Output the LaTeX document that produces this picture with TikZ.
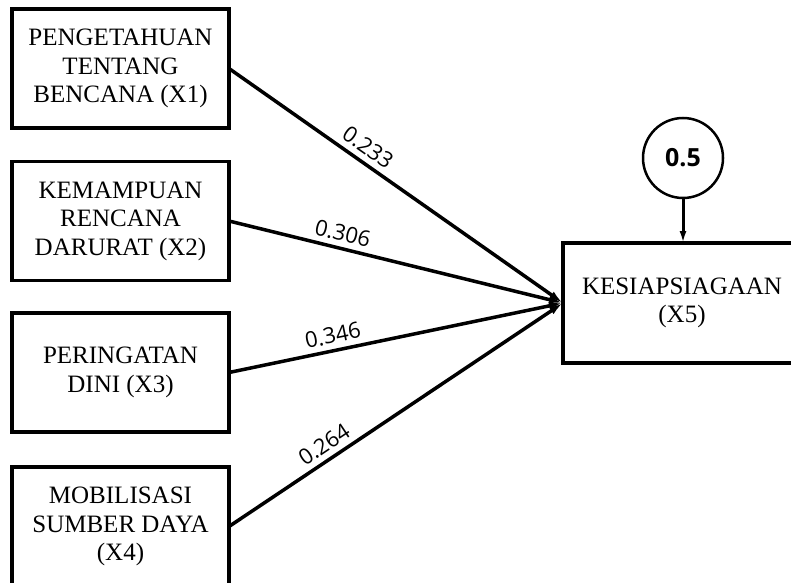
\documentclass[tikz,border=0pt]{standalone}
\usepackage{fontspec}
\setmainfont{Liberation Serif}
\newfontfamily\labfont{Open Sans}
\usetikzlibrary{arrows.meta}
\begin{document}
\begin{tikzpicture}[x=1pt,y=1pt,
  varbox/.style={draw, line width=3.5pt, minimum width=217pt, minimum height=119pt,
    inner sep=0pt, outer sep=0pt, align=center,
    font=\fontsize{25}{28.5}\selectfont},
  pathline/.style={line width=3.5pt, -{Latex[length=14pt,width=8pt]}},
  coef/.style={sloped, above=2pt, font=\labfont\fontsize{22}{26}\selectfont},
]
\useasboundingbox (0,0) rectangle (791,582);
\clip (0,0) rectangle (791,582);
\node[varbox] (x1) at (120.5,513.5) {PENGETAHUAN\\TENTANG\\BENCANA (X1)};
\node[varbox] (x2) at (120.5,361) {KEMAMPUAN\\RENCANA\\DARURAT (X2)};
\node[varbox] (x3) at (120.5,209.5) {PERINGATAN\\DINI (X3)};
\node[varbox] (x4) at (120.5,55.5) {MOBILISASI\\SUMBER DAYA\\(X4)};
\node[varbox, minimum width=238pt, minimum height=120pt] (x5) at (682,279) {KESIAPSIAGAAN\\(X5)};
\node[draw, circle, line width=2.5pt, minimum size=80pt, inner sep=0pt, outer sep=0pt,
  font=\labfont\bfseries\fontsize{25}{29}\selectfont] (e) at (683,424) {0.5};
\coordinate (t) at (x5.west);
\draw[pathline] (x1.east) -- node[coef, pos=0.39] {0.233} (t);
\draw[pathline] (x2.east) -- node[coef, pos=0.33] {0.306} (t);
\draw[pathline] (x3.east) -- node[coef, pos=0.32] {0.346} (t);
\draw[pathline] (x4.east) -- node[coef, pos=0.31] {0.264} (t);
\draw[line width=3pt, -{Latex[length=12pt,width=7pt]}] (e.south) -- (e.south |- x5.north);
\end{tikzpicture}
\end{document}
